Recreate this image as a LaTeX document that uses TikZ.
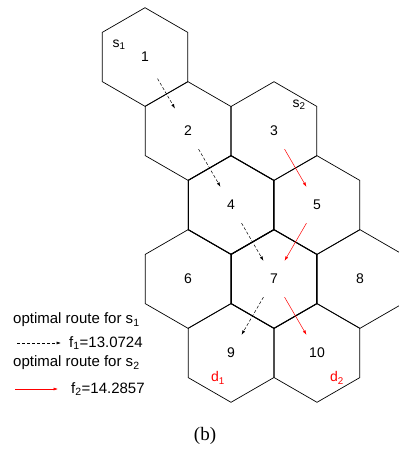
\documentclass[tikz,border=0pt]{standalone}
\usepackage{fontspec}
\setmainfont{Liberation Sans}
\newfontfamily\capfont{Liberation Serif}
\usetikzlibrary{calc,arrows.meta}

\tikzset{
  cell/.style={line width=.7pt, line join=miter},
  bold cell/.style={line width=1pt},
  lbl/.style={font=\fontsize{14}{16}\selectfont, inner sep=0pt},
  key/.style={font=\fontsize{15}{17}\selectfont, inner sep=0pt, anchor=west},
  route1/.style={densely dashed, line width=.5pt, -{Latex[length=4.5pt,width=3pt]}},
  route2/.style={red, line width=.5pt, -{Latex[length=4.5pt,width=3pt]}},
  hop/.style={shorten <=21pt, shorten >=21pt},
}
\newcommand{\hexcell}[2][]{%
  \draw[cell,#1] ($(#2)+(30:49.3)$) \foreach \a in {90,150,...,330}{ -- ($(#2)+(\a:49.3)$)} -- cycle;}

\begin{document}
\begin{tikzpicture}[x=1pt,y=-1pt]
  \useasboundingbox (0,0) rectangle (399,450);
  % cells
  \begin{scope}
    \clip (0,0) rectangle (399,450);
    \foreach \n/\i/\j in {1/0/0,2/1/1,3/3/1,4/2/2,5/4/2,6/1/3,7/3/3,8/5/3,9/2/4,10/4/4}{
      \coordinate (h\n) at (145+43*\i,57+74*\j);
      \hexcell{h\n}
    }
    \hexcell[bold cell]{h4}
    \hexcell[bold cell]{h7}
  \end{scope}
  \foreach \n in {1,...,10}
    \node[lbl] (c\n) at (h\n) {\n};
  \node[lbl] (s1) at (119,45) {s\textsubscript{1}};
  \node[lbl] (s2) at (299,105) {s\textsubscript{2}};
  \node[lbl, red] (d1) at (218,378) {d\textsubscript{1}};
  \node[lbl, red] (d2) at (337,378) {d\textsubscript{2}};
  % routes
  \draw[route1, hop, shorten <=25pt, shorten >=26pt] (h1) -- (h2);
  \draw[route1, hop] (h2) -- (h4);
  \draw[route1, hop] (h4) -- (h7);
  \draw[route1, hop] (h7) -- (h9);
  \draw[route2, hop] (h3) -- (h5);
  \draw[route2, hop] (h5) -- (h7);
  \draw[route2, hop] (h7) -- (h10);
  % legend
  \node[key] (t1) at (13,320) {optimal route for s\textsubscript{1}};
  \coordinate (a1) at (17,343);
  \coordinate (b1) at (61,343);
  \draw[route1] (a1) -- (b1);
  \node[key] (f1) at (69,343) {f\textsubscript{1}=13.0724};
  \node[key] (t2) at (13,363) {optimal route for s\textsubscript{2}};
  \coordinate (a2) at (15,389);
  \coordinate (b2) at (58,389);
  \draw[route2] (a2) -- (b2);
  \node[key] (f2) at (71,389) {f\textsubscript{2}=14.2857};
  \node[font=\capfont\fontsize{19}{22}\selectfont] (cap) at (205,436) {(b)};
\end{tikzpicture}
\end{document}
